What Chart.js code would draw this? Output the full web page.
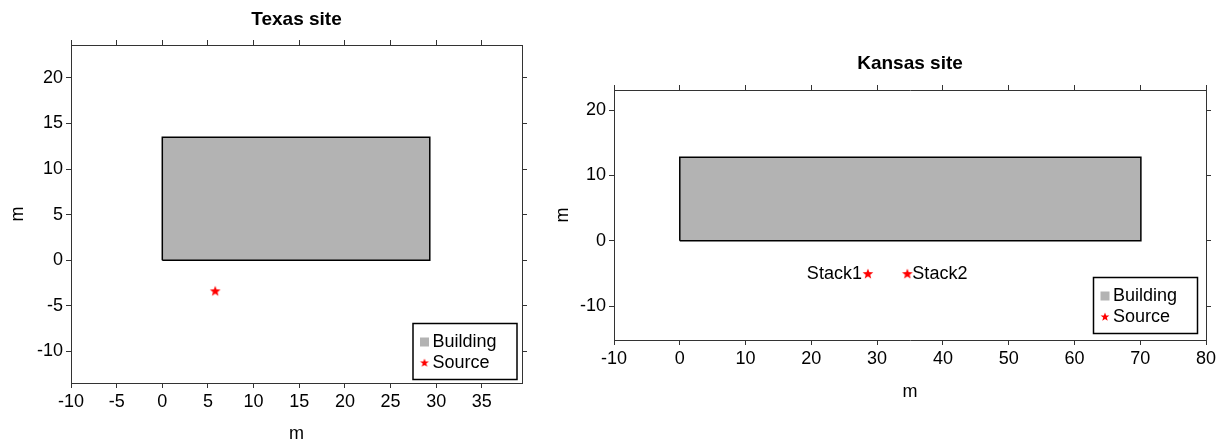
<!DOCTYPE html>
<html>
<head>
<style>
  body { margin: 0; background: #fff; }
  canvas { position: absolute; top: 0; }
  #texas { left: 0; }
  #kansas { left: 540px; }
</style>
</head>
<body>
<canvas id="texas" width="540" height="442"></canvas>
<canvas id="kansas" width="683" height="442"></canvas>
<script src="https://cdn.jsdelivr.net/npm/chart.js@4/dist/chart.umd.min.js"></script>
<script>
// Texas site
const texasBuildingX = [0, 29.3, 29.3, 0, 0];
const texasBuildingY = [0, 0, 13.5, 13.5, 0];
const texasSourceX = [5.8];
const texasSourceY = [-3.4];
const texasXTicks = [-10, -5, 0, 5, 10, 15, 20, 25, 30, 35];
const texasYTicks = [-10, -5, 0, 5, 10, 15, 20];

// Kansas site
const kansasBuildingX = [0, 70.1, 70.1, 0, 0];
const kansasBuildingY = [0, 0, 12.8, 12.8, 0];
const kansasSourceX = [28.6, 34.6];
const kansasSourceY = [-5.1, -5.1];
const kansasSourceNames = ['Stack1', 'Stack2'];
const kansasNameAlign = ['right', 'left'];
const kansasXTicks = [-10, 0, 10, 20, 30, 40, 50, 60, 70, 80];
const kansasYTicks = [-10, 0, 10, 20];

const FONT = '"Liberation Sans", Arial, sans-serif';
Chart.defaults.font.family = FONT;
Chart.defaults.color = '#000';

function starImage(r, color) {
    const size = Math.ceil(r * 2) + 2;
    const c = document.createElement('canvas');
    c.width = c.height = size;
    const g = c.getContext('2d');
    g.fillStyle = color;
    g.beginPath();
    for (let i = 0; i < 10; i++) {
        const rad = i % 2 ? r * 0.42 : r;
        const a = -Math.PI / 2 + i * Math.PI / 5;
        g.lineTo(size / 2 + rad * Math.cos(a), size / 2 + rad * Math.sin(a));
    }
    g.closePath();
    g.fill();
    return c;
}
const bigStar = starImage(5.6, '#ff0000');
const smallStar = starImage(4.6, '#ff0000');

// legend box drawn inside the bottom right of the plot
const boxLegend = {
    id: 'boxLegend',
    afterDraw(chart, args, opts) {
        const {ctx, chartArea: a} = chart;
        const w = 104, h = 56;
        const left = a.right - opts.right - w;
        const top = a.bottom - opts.bottom - h;
        ctx.save();
        ctx.fillStyle = '#fff';
        ctx.fillRect(left, top, w, h);
        ctx.strokeStyle = '#000';
        ctx.lineWidth = 1.5;
        ctx.strokeRect(left, top, w, h);
        ctx.font = '18px ' + FONT;
        ctx.textBaseline = 'middle';
        ctx.textAlign = 'left';
        chart.data.datasets.forEach((ds, i) => {
            const cy = top + 18.5 + i * 21;
            if (i === 0) {
                ctx.fillStyle = ds.backgroundColor;
                ctx.fillRect(left + 7, cy - 4.5, 9, 9);
            } else {
                ctx.drawImage(smallStar, left + 11.5 - smallStar.width / 2, cy - smallStar.height / 2);
            }
            ctx.fillStyle = '#000';
            ctx.fillText(ds.label, left + 19.5, cy);
        });
        ctx.restore();
    }
};

// text next to each source point
const pointNames = {
    id: 'pointNames',
    afterDatasetsDraw(chart, args, opts) {
        if (!opts.names) return;
        const {ctx} = chart;
        const x = chart.scales.x, y = chart.scales.y;
        ctx.save();
        ctx.font = '18px ' + FONT;
        ctx.fillStyle = '#000';
        ctx.textBaseline = 'middle';
        opts.names.forEach((name, i) => {
            const px = x.getPixelForValue(opts.xs[i]);
            const py = y.getPixelForValue(opts.ys[i]);
            ctx.textAlign = opts.align[i];
            ctx.fillText(name, px + (opts.align[i] === 'right' ? -6 : 5), py);
        });
        ctx.restore();
    }
};

function makeChart(id, s) {
    const grid = { drawOnChartArea: false, drawTicks: true, tickLength: 5, color: '#333', lineWidth: 1 };
    const border = { display: true, color: '#333', width: 1 };
    const tickFont = { size: 18 };
    const setTicks = list => scale => { scale.ticks = list.map(v => ({value: v})); };

    return new Chart(document.getElementById(id), {
        type: 'scatter',
        data: {
            datasets: [
                {
                    label: 'Building',
                    data: s.bx.map((v, i) => ({x: v, y: s.by[i]})),
                    showLine: true,
                    fill: 'shape',
                    backgroundColor: '#b3b3b3',
                    borderColor: '#000',
                    borderWidth: 1.5,
                    pointRadius: 0,
                    tension: 0,
                    xAxisID: 'x',
                    yAxisID: 'y'
                },
                {
                    label: 'Source',
                    data: s.sx.map((v, i) => ({x: v, y: s.sy[i]})),
                    pointStyle: bigStar,
                    pointRadius: 6,
                    xAxisID: 'x',
                    yAxisID: 'y'
                }
            ]
        },
        options: {
            responsive: false,
            animation: false,
            events: [],
            layout: { padding: 0 },
            plugins: {
                legend: { display: false },
                tooltip: { enabled: false },
                boxLegend: s.legend,
                pointNames: s.names || {}
            },
            scales: {
                x: {
                    type: 'linear', position: 'bottom', min: s.xmin, max: s.xmax,
                    afterBuildTicks: setTicks(s.xticks),
                    afterFit: sc => { sc.height = s.bottomH; },
                    grid, border,
                    ticks: { font: tickFont, padding: 3, maxRotation: 0 },
                    title: { display: true, text: 'm', font: { size: 18 }, padding: { top: 0, bottom: s.xTitlePad } }
                },
                y: {
                    type: 'linear', position: 'left', min: s.ymin, max: s.ymax,
                    afterBuildTicks: setTicks(s.yticks),
                    afterFit: sc => { sc.width = s.leftW; },
                    grid, border,
                    ticks: { font: tickFont, padding: 3 },
                    title: { display: true, text: 'm', font: { size: 18 }, padding: { top: s.yTitlePad, bottom: 0 } }
                },
                x2: {
                    type: 'linear', position: 'top', min: s.xmin, max: s.xmax,
                    afterBuildTicks: setTicks(s.xticks),
                    afterFit: sc => { sc.height = s.topH; },
                    grid, border,
                    ticks: { display: false },
                    title: { display: true, text: s.title, font: { size: 19, weight: 'bold' }, padding: { top: s.titlePad, bottom: 0 } }
                },
                y2: {
                    type: 'linear', position: 'right', min: s.ymin, max: s.ymax,
                    afterBuildTicks: setTicks(s.yticks),
                    afterFit: sc => { sc.width = s.rightW; },
                    grid, border,
                    ticks: { display: false }
                }
            }
        },
        plugins: [boxLegend, pointNames]
    });
}

makeChart('texas', {
    title: 'Texas site',
    bx: texasBuildingX, by: texasBuildingY,
    sx: texasSourceX, sy: texasSourceY,
    xticks: texasXTicks, yticks: texasYTicks,
    xmin: -10, xmax: 39.4, ymin: -13.45, ymax: 23.6,
    topH: 45, bottomH: 59, leftW: 71, rightW: 18,
    titlePad: 8, xTitlePad: -2.5, yTitlePad: 7,
    legend: { right: 5, bottom: 3.5 }
});

makeChart('kansas', {
    title: 'Kansas site',
    bx: kansasBuildingX, by: kansasBuildingY,
    sx: kansasSourceX, sy: kansasSourceY,
    xticks: kansasXTicks, yticks: kansasYTicks,
    xmin: -10, xmax: 80, ymin: -15.2, ymax: 23.1,
    topH: 90, bottomH: 102, leftW: 74, rightW: 17,
    titlePad: 52.5, xTitlePad: 39, yTitlePad: 12,
    legend: { right: 8.5, bottom: 6.5 },
    names: { names: kansasSourceNames, xs: kansasSourceX, ys: kansasSourceY, align: kansasNameAlign }
});
</script>
</body>
</html>
